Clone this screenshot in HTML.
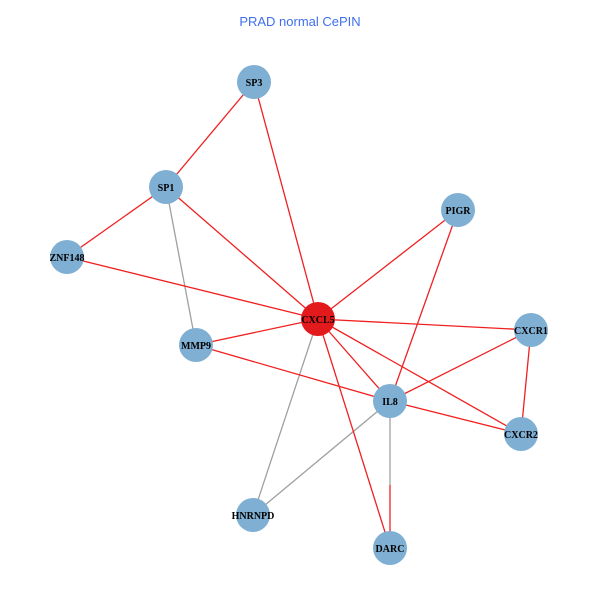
<!DOCTYPE html>
<html><head><style>body{margin:0;background:#fff}svg{display:block}</style></head><body>
<svg width="600" height="600" xmlns="http://www.w3.org/2000/svg">
<rect width="600" height="600" fill="#fff"/>
<text x="300" y="26" text-anchor="middle" font-family="Liberation Sans, sans-serif" font-size="13" fill="#3f6fee">PRAD normal CePIN</text>
<g stroke="#a0a0a0" stroke-width="1.3">
<line x1="166" y1="187" x2="196" y2="345"/>
<line x1="318" y1="319" x2="253" y2="515"/>
<line x1="390" y1="401" x2="253" y2="515"/>
<line x1="390" y1="401" x2="390" y2="485"/>
</g>
<g stroke="#f02020" stroke-width="1.3">
<line x1="254" y1="82" x2="166" y2="187"/>
<line x1="254" y1="82" x2="318" y2="319"/>
<line x1="166" y1="187" x2="67" y2="257"/>
<line x1="166" y1="187" x2="318" y2="319"/>
<line x1="67" y1="257" x2="318" y2="319"/>
<line x1="458" y1="210" x2="318" y2="319"/>
<line x1="458" y1="210" x2="390" y2="401"/>
<line x1="318" y1="319" x2="196" y2="345"/>
<line x1="318" y1="319" x2="531" y2="330"/>
<line x1="318" y1="319" x2="390" y2="401"/>
<line x1="318" y1="319" x2="521" y2="434"/>
<line x1="318" y1="319" x2="390" y2="548"/>
<line x1="196" y1="345" x2="390" y2="401"/>
<line x1="531" y1="330" x2="390" y2="401"/>
<line x1="531" y1="330" x2="521" y2="434"/>
<line x1="390" y1="401" x2="521" y2="434"/>
<line x1="390" y1="485" x2="390" y2="548"/>
</g>
<g fill="#7fafd3">
<circle cx="254" cy="82" r="17"/>
<circle cx="166" cy="187" r="17"/>
<circle cx="67" cy="257" r="17"/>
<circle cx="458" cy="210" r="17"/>
<circle cx="196" cy="345" r="17"/>
<circle cx="531" cy="330" r="17"/>
<circle cx="390" cy="401" r="17"/>
<circle cx="521" cy="434" r="17"/>
<circle cx="253" cy="515" r="17"/>
<circle cx="390" cy="548" r="17"/>
</g>
<circle cx="318" cy="319" r="17" fill="#e31a1c"/>
<g font-family="Liberation Serif, serif" font-size="10" font-weight="bold" fill="#000" text-anchor="middle">
<text x="254" y="86">SP3</text>
<text x="166" y="191">SP1</text>
<text x="67" y="261">ZNF148</text>
<text x="458" y="214">PIGR</text>
<text x="318" y="323">CXCL5</text>
<text x="196" y="349">MMP9</text>
<text x="531" y="334">CXCR1</text>
<text x="390" y="405">IL8</text>
<text x="521" y="438">CXCR2</text>
<text x="253" y="519">HNRNPD</text>
<text x="390" y="552">DARC</text>
</g>
</svg>
</body></html>
